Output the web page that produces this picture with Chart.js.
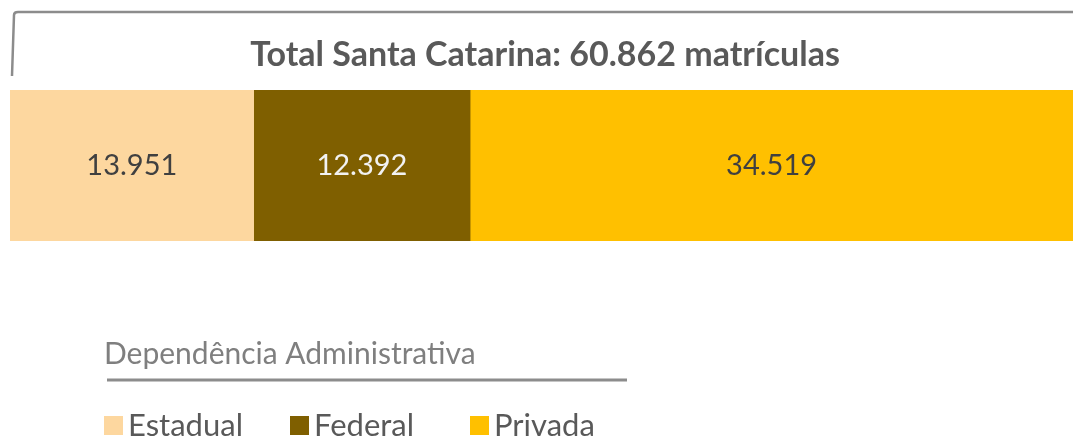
<!DOCTYPE html>
<html>
<head>
<meta charset="utf-8">
<script src="https://cdn.jsdelivr.net/npm/chart.js@4"></script>
<style>
  html, body { margin: 0; padding: 0; background: #fff; }
  #wrap { position: relative; width: 1073px; height: 440px; }
</style>
</head>
<body>
<div id="wrap"><canvas id="chart" width="1073" height="440"></canvas></div>
<script>
/* ---- data ---- */
const categories = ['Total Santa Catarina'];
const seriesNames = ['Estadual', 'Federal', 'Privada'];
const seriesValues = [13951, 12392, 34519];
const seriesColors = ['#fdd79f', '#7f5f00', '#ffc000'];
const labelColors = ['#404040', '#f2f2f2', '#404040'];
const legendTitle = 'Dependência Administrativa';

const total = seriesValues.reduce((a, b) => a + b, 0);
const fmt = (v) => v.toLocaleString('pt-BR');
const FONT = "Lato, 'Open Sans', sans-serif";

/* ---- frame + title ---- */
const framePlugin = {
  id: 'frame',
  beforeDraw(chart) {
    const ctx = chart.ctx;
    ctx.save();
    ctx.strokeStyle = '#8c8c8c';
    ctx.lineWidth = 2.5;
    ctx.beginPath();
    ctx.moveTo(12, 76);
    ctx.lineTo(14, 15);
    ctx.quadraticCurveTo(14, 12, 18, 12);
    ctx.lineTo(1073, 12);
    ctx.stroke();

    ctx.fillStyle = '#595959';
    ctx.font = `bold 34px ${FONT}`;
    ctx.textAlign = 'center';
    ctx.textBaseline = 'middle';
    ctx.fillText(`Total Santa Catarina: ${fmt(total)} matrículas`, 545, 55);
    ctx.restore();
  }
};

/* ---- values inside segments ---- */
const valuePlugin = {
  id: 'values',
  afterDatasetsDraw(chart) {
    const ctx = chart.ctx;
    ctx.save();
    ctx.font = `29px ${FONT}`;
    ctx.textAlign = 'center';
    ctx.textBaseline = 'middle';
    chart.data.datasets.forEach((ds, i) => {
      const bar = chart.getDatasetMeta(i).data[0];
      const cx = (bar.x + bar.base) / 2;
      ctx.fillStyle = labelColors[i];
      ctx.fillText(fmt(ds.data[0]), cx, bar.y);
    });
    ctx.restore();
  }
};

/* ---- legend with title and rule ---- */
const legendPlugin = {
  id: 'customLegend',
  afterDraw(chart) {
    const ctx = chart.ctx;
    ctx.save();
    ctx.fillStyle = '#7f7f7f';
    ctx.font = `30px ${FONT}`;
    ctx.textAlign = 'left';
    ctx.textBaseline = 'middle';
    ctx.fillText(legendTitle, 104, 354);

    ctx.strokeStyle = '#8c8c8c';
    ctx.lineWidth = 3;
    ctx.beginPath();
    ctx.moveTo(107, 380);
    ctx.lineTo(627, 380);
    ctx.stroke();

    const starts = [104, 290, 470];
    ctx.font = `31px ${FONT}`;
    seriesNames.forEach((name, i) => {
      ctx.fillStyle = seriesColors[i];
      ctx.fillRect(starts[i], 416, 19, 19);
      ctx.fillStyle = '#595959';
      ctx.fillText(name, starts[i] + 24, 426);
    });
    ctx.restore();
  }
};

new Chart(document.getElementById('chart'), {
  type: 'bar',
  data: {
    labels: categories,
    datasets: seriesNames.map((name, i) => ({
      label: name,
      data: [seriesValues[i]],
      backgroundColor: seriesColors[i],
      borderWidth: 0,
      barPercentage: 1,
      categoryPercentage: 1,
    })),
  },
  options: {
    indexAxis: 'y',
    responsive: false,
    animation: false,
    layout: { padding: { left: 10, right: 0, top: 90, bottom: 199 } },
    plugins: {
      legend: { display: false },
      tooltip: { enabled: false },
      title: { display: false },
    },
    scales: {
      x: { stacked: true, min: 0, max: total, display: false },
      y: { stacked: true, display: false },
    },
  },
  plugins: [framePlugin, valuePlugin, legendPlugin],
});
</script>
</body>
</html>
